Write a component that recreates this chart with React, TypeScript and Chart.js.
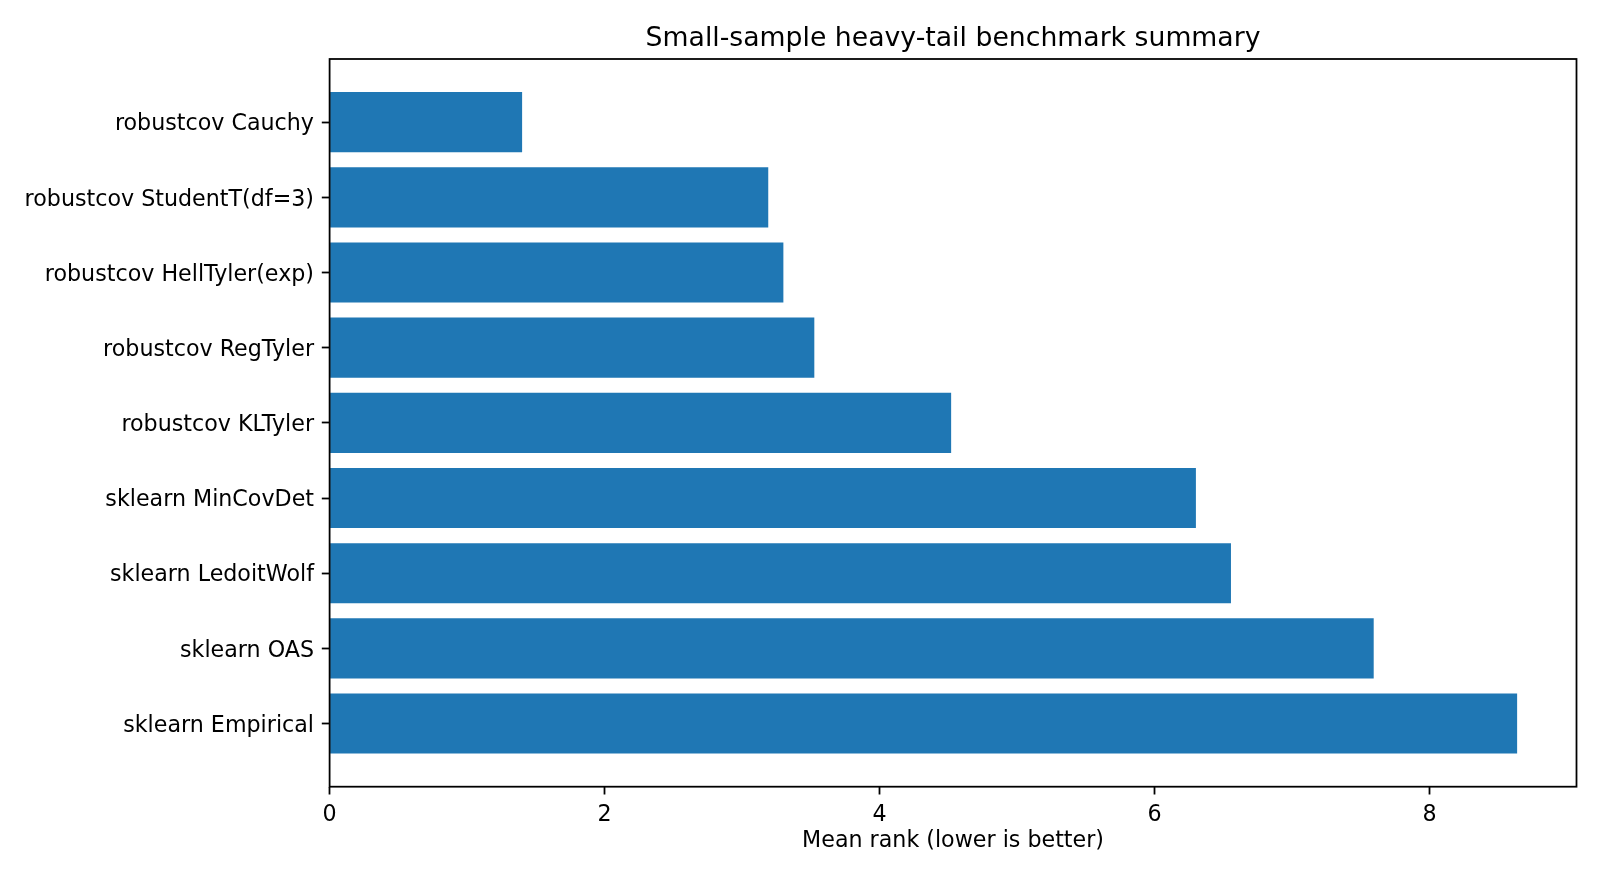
import React, { useEffect, useRef } from "react";
import { Chart, registerables } from "chart.js";

Chart.register(...registerables);

const methods = [
  "robustcov Cauchy",
  "robustcov StudentT(df=3)",
  "robustcov HellTyler(exp)",
  "robustcov RegTyler",
  "robustcov KLTyler",
  "sklearn MinCovDet",
  "sklearn LedoitWolf",
  "sklearn OAS",
  "sklearn Empirical",
];

const meanRanks = [1.4, 3.19, 3.3, 3.525, 4.52, 6.3, 6.555, 7.593, 8.636];

const xTicks = [0, 2, 4, 6, 8];

const chartTitle = "Small-sample heavy-tail benchmark summary";
const xAxisTitle = "Mean rank (lower is better)";

const FONT = "'DejaVu Sans', sans-serif";
const BAR_COLOR = "#1f77b4";
const TICK_FONT = 22.2;
const TITLE_FONT = 26.7;

export default function App() {
  const canvasRef = useRef<HTMLCanvasElement | null>(null);

  useEffect(() => {
    document.body.style.margin = "0";
    const canvas = canvasRef.current;
    if (!canvas) return;

    const n = methods.length;
    const barFrac = 0.8;
    const yLo = -barFrac / 2;
    const yHi = n - 1 + barFrac / 2;
    const yPad = (yHi - yLo) * 0.05;
    const xMax = Math.max(...meanRanks) * 1.05;

    const framePlugin = {
      id: "frameAndTitle",
      afterDraw(chart: any) {
        const { ctx, chartArea } = chart;
        ctx.save();
        ctx.strokeStyle = "#000";
        ctx.lineWidth = 1.78;
        ctx.strokeRect(
          chartArea.left,
          chartArea.top,
          chartArea.right - chartArea.left,
          chartArea.bottom - chartArea.top
        );
        ctx.fillStyle = "#000";
        ctx.font = `${TITLE_FONT}px ${FONT}`;
        ctx.textAlign = "center";
        ctx.textBaseline = "middle";
        ctx.fillText(chartTitle, (chartArea.left + chartArea.right) / 2, chartArea.top - 20);
        ctx.restore();
      },
    };

    const chart = new Chart(canvas, {
      type: "bar",
      data: {
        datasets: [
          {
            label: "Mean rank",
            data: meanRanks.map((v, i) => ({ x: v, y: i })),
            backgroundColor: BAR_COLOR,
            borderWidth: 0,
            categoryPercentage: 1,
            barPercentage: barFrac,
          } as any,
        ],
      },
      options: {
        indexAxis: "y",
        responsive: false,
        animation: false,
        layout: { padding: { top: 59, right: 23.5, bottom: 0, left: 0 } },
        plugins: {
          legend: { display: false },
          title: { display: false },
          tooltip: { enabled: false },
        },
        scales: {
          x: {
            type: "linear",
            position: "bottom",
            min: 0,
            max: xMax,
            offset: false,
            afterBuildTicks: (scale: any) => {
              scale.ticks = xTicks.map((v) => ({ value: v }));
            },
            afterFit: (scale: any) => {
              scale.height = 93.3;
            },
            ticks: {
              color: "#000",
              font: { family: FONT, size: TICK_FONT },
              padding: 7.8,
              maxRotation: 0,
              callback: (value: any) => String(value),
            },
            grid: {
              display: true,
              offset: false,
              drawOnChartArea: false,
              drawTicks: true,
              tickLength: 7.8,
              tickWidth: 1.78,
              tickColor: "#000",
            },
            border: { display: false },
            title: {
              display: true,
              text: xAxisTitle,
              color: "#000",
              font: { family: FONT, size: TICK_FONT },
              padding: { top: 0, bottom: 25 },
            },
          },
          y: {
            type: "linear",
            position: "left",
            reverse: true,
            offset: false,
            min: yLo - yPad,
            max: yHi + yPad,
            afterBuildTicks: (scale: any) => {
              scale.ticks = methods.map((_, i) => ({ value: i }));
            },
            afterFit: (scale: any) => {
              scale.width = 329.6;
            },
            ticks: {
              color: "#000",
              font: { family: FONT, size: TICK_FONT },
              padding: 7.8,
              labelOffset: 2.5,
              autoSkip: false,
              callback: (value: any) => methods[Math.round(Number(value))] ?? "",
            },
            grid: {
              display: true,
              offset: false,
              drawOnChartArea: false,
              drawTicks: true,
              tickLength: 7.8,
              tickWidth: 1.78,
              tickColor: "#000",
            },
            border: { display: false },
          },
        },
      },
      plugins: [framePlugin],
    } as any);

    return () => {
      chart.destroy();
    };
  }, []);

  return (
    <div style={{ width: 1600, height: 880, background: "#fff" }}>
      <canvas ref={canvasRef} width={1600} height={880} style={{ display: "block" }} />
    </div>
  );
}
